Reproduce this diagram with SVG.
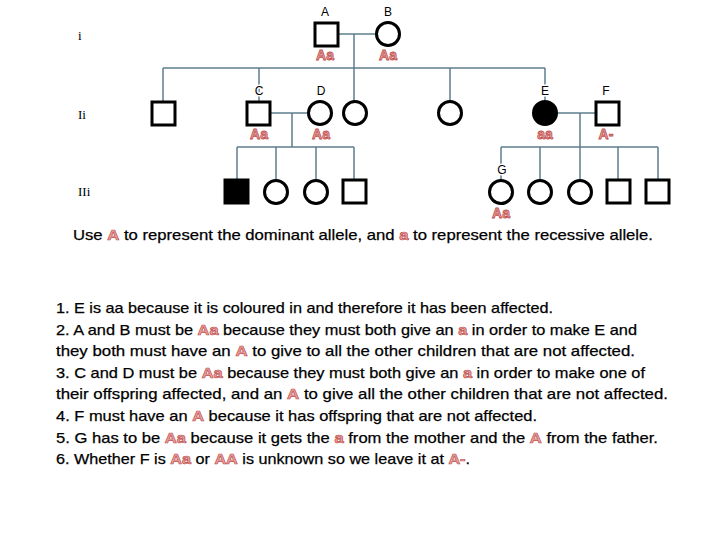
<svg xmlns="http://www.w3.org/2000/svg" width="720" height="540" viewBox="0 0 720 540">
<style>
.sym{fill:#fff;stroke:#000;stroke-width:3}
.aff{fill:#000;stroke:#000;stroke-width:3}
.ln{fill:none;stroke:#5f7d8e;stroke-width:1.5}
.lbl{font-family:"Liberation Sans",Arial,sans-serif;font-size:12px;fill:#000;text-anchor:middle;stroke:#fff;stroke-width:3;paint-order:stroke}
.gen{font-family:"Liberation Sans",Arial,sans-serif;font-size:14px;font-weight:bold;fill:#e9a3a3;stroke:#c0504d;stroke-width:0.8;text-anchor:middle}
.num{font-family:"Liberation Serif",serif;font-size:13px;fill:#000}
.txt{font-family:"Liberation Sans",Arial,sans-serif;font-size:15px;fill:#000;stroke:#000;stroke-width:0.25}
.g{font-weight:bold;fill:#e9a3a3;stroke:#c0504d;stroke-width:0.7}
</style>
<rect width="720" height="540" fill="#fff"/>
<g id="connectors">
<path class="ln" d="M338 34H376M354 34V101M163 68H545M163 68V101M259 68V101M450 68V101M545 68V101"/>
<path class="ln" d="M271 113H308M292 113V147M237 147H354M237 147V180M276 147V180M316 147V180M354 147V180"/>
<path class="ln" d="M557 113H596M580 113V147M501 147H658M501 147V180M540 147V180M580 147V180M618 147V180M658 147V180"/>
</g>
<g id="gen-labels">
<text class="num" x="78" y="40">i</text>
<text class="num" x="78" y="119">Ii</text>
<text class="num" x="78" y="196">IIi</text>
</g>
<g id="A"><rect class="sym" x="315" y="23" width="23" height="23"/><text class="lbl" x="325" y="16">A</text><text class="gen" x="325" y="60">Aa</text></g>
<g id="B"><circle class="sym" cx="388" cy="34" r="11.5"/><text class="lbl" x="388" y="16">B</text><text class="gen" x="388" y="60">Aa</text></g>
<g id="II-1"><rect class="sym" x="152" y="102" width="23" height="23"/></g>
<g id="C"><rect class="sym" x="247" y="102" width="23" height="23"/><text class="lbl" x="259" y="95">C</text><text class="gen" x="259" y="139">Aa</text></g>
<g id="D"><circle class="sym" cx="320" cy="113" r="11.5"/><text class="lbl" x="321" y="95">D</text><text class="gen" x="321" y="139">Aa</text></g>
<g id="II-4"><circle class="sym" cx="355" cy="113" r="11.5"/></g>
<g id="II-5"><circle class="sym" cx="450" cy="113" r="11.5"/></g>
<g id="E"><circle class="aff" cx="545" cy="113" r="11.5"/><text class="lbl" x="545" y="95">E</text><text class="gen" x="545" y="139">aa</text></g>
<g id="F"><rect class="sym" x="596" y="102" width="23" height="23"/><text class="lbl" x="606" y="95">F</text><text class="gen" x="606" y="139">A-</text></g>
<g id="III-1"><rect class="aff" x="225" y="180" width="23" height="23"/></g>
<g id="III-2"><circle class="sym" cx="276" cy="192" r="11.5"/></g>
<g id="III-3"><circle class="sym" cx="316" cy="192" r="11.5"/></g>
<g id="III-4"><rect class="sym" x="343" y="180" width="23" height="23"/></g>
<g id="G"><circle class="sym" cx="501" cy="192" r="11.5"/><text class="lbl" x="502" y="174">G</text><text class="gen" x="501" y="218">Aa</text></g>
<g id="III-6"><circle class="sym" cx="540" cy="192" r="11.5"/></g>
<g id="III-7"><circle class="sym" cx="580" cy="192" r="11.5"/></g>
<g id="III-8"><rect class="sym" x="607" y="180" width="23" height="23"/></g>
<g id="III-9"><rect class="sym" x="646" y="180" width="23" height="23"/></g>
<g id="text">
<text class="txt" x="73" y="240" textLength="580" lengthAdjust="spacingAndGlyphs">Use <tspan class="g">A</tspan> to represent the dominant allele, and <tspan class="g">a</tspan> to represent the recessive allele.</text>
<text class="txt" x="56" y="313" textLength="497" lengthAdjust="spacingAndGlyphs">1. E is aa because it is coloured in and therefore it has been affected.</text>
<text class="txt" x="56" y="335" textLength="581" lengthAdjust="spacingAndGlyphs">2. A and B must be <tspan class="g">Aa</tspan> because they must both give an <tspan class="g">a</tspan> in order to make E and</text>
<text class="txt" x="56" y="356" textLength="579" lengthAdjust="spacingAndGlyphs">they both must have an <tspan class="g">A</tspan> to give to all the other children that are not affected.</text>
<text class="txt" x="56" y="378" textLength="589" lengthAdjust="spacingAndGlyphs">3. C and D must be <tspan class="g">Aa</tspan> because they must both give an <tspan class="g">a</tspan> in order to make one of</text>
<text class="txt" x="56" y="399" textLength="612" lengthAdjust="spacingAndGlyphs">their offspring affected, and an <tspan class="g">A</tspan> to give all the other children that are not affected.</text>
<text class="txt" x="56" y="421" textLength="481" lengthAdjust="spacingAndGlyphs">4. F must have an <tspan class="g">A</tspan> because it has offspring that are not affected.</text>
<text class="txt" x="56" y="443" textLength="602" lengthAdjust="spacingAndGlyphs">5. G has to be <tspan class="g">Aa</tspan> because it gets the <tspan class="g">a</tspan> from the mother and the <tspan class="g">A</tspan> from the father.</text>
<text class="txt" x="56" y="464" textLength="414" lengthAdjust="spacingAndGlyphs">6. Whether F is <tspan class="g">Aa</tspan> or <tspan class="g">AA</tspan> is unknown so we leave it at <tspan class="g">A-</tspan>.</text>
</g>
</svg>
